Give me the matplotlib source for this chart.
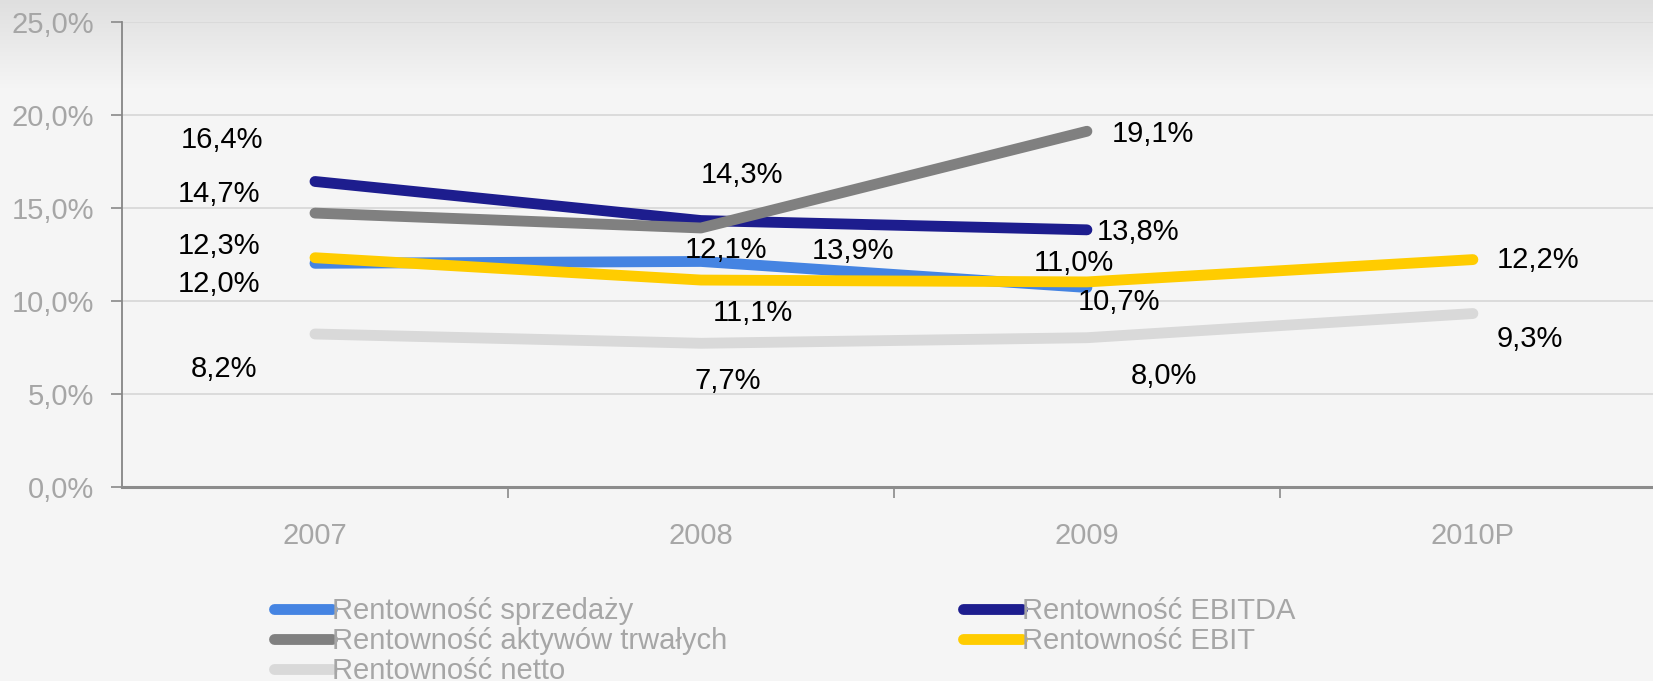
import numpy as np
import matplotlib
matplotlib.use('Agg')
import matplotlib.pyplot as plt
from matplotlib.ticker import FuncFormatter, FixedLocator

plt.rcParams['font.family'] = ['Liberation Sans', 'DejaVu Sans']

# --- dane ---
lata = ['2007', '2008', '2009', '2010P']
rent_sprzedazy = [12.0, 12.1, 10.7]
rent_ebitda = [16.4, 14.3, 13.8]
rent_aktywow = [14.7, 13.9, 19.1]
rent_ebit = [12.3, 11.1, 11.0, 12.2]
rent_netto = [8.2, 7.7, 8.0, 9.3]

nazwy = ['Rentowność sprzedaży', 'Rentowność EBITDA', 'Rentowność aktywów trwałych',
         'Rentowność EBIT', 'Rentowność netto']
serie = [rent_sprzedazy, rent_ebitda, rent_aktywow, rent_ebit, rent_netto]
kolory = ['#4584e2', '#1d1d8e', '#808080', '#ffcc00', '#d9d9d9']

# przesunięcia etykiet (w pikselach) - tak jak na oryginalnym wykresie
przesuniecia = [
    [(-96, -21), (25, 11), (32, -15)],
    [(-93, 41), (41, 46), (51, -2)],
    [(-96, 19), (152, -23), (66, -3)],
    [(-96, 12), (52, -33), (-13, 19), (65, 0)],
    [(-91, -35), (27, -38), (77, -38), (57, -25)],
]

FS = 21
SZARY_TXT = '#a6a6a6'
LW = 7.8

fig = plt.figure(figsize=(16.53, 6.81), dpi=100)
fig.patch.set_facecolor('#f5f5f5')

# delikatny gradient u góry
tlo = fig.add_axes([0, 0, 1, 1], zorder=-10)
grad = np.ones((681, 1))
grad[:, 0] = 0.962
grad[:90, 0] = np.linspace(0.875, 0.962, 90)
tlo.imshow(np.dstack([grad, grad, grad]), aspect='auto', extent=[0, 1, 0, 1])
tlo.axis('off')

ax = fig.add_axes([0.0738, 0.2856, 0.934, 0.6828])
ax.set_facecolor('none')

x = np.arange(len(lata))
for nazwa, dane, kolor, offs in zip(nazwy, serie, kolory, przesuniecia):
    xs = x[:len(dane)]
    ax.plot(xs, dane, color=kolor, lw=LW, solid_capstyle='round',
            solid_joinstyle='round', label=nazwa)
    for xi, v, (dx, dy) in zip(xs, dane, offs):
        ax.annotate(f'{v:.1f}%'.replace('.', ','), (xi, v), xytext=(dx, dy),
                    textcoords='offset pixels', ha='center', va='center',
                    fontsize=FS, color='black')

ax.set_xlim(-0.5, 3.5)
ax.set_ylim(0, 25)
ax.set_yticks(np.arange(0, 26, 5))
ax.yaxis.set_major_formatter(FuncFormatter(lambda v, p: f'{v:.1f}%'.replace('.', ',')))
ax.grid(axis='y', color='#d9d9d9', lw=1.3)
ax.set_axisbelow(True)

ax.xaxis.set_major_locator(FixedLocator([0.5, 1.5, 2.5]))
ax.xaxis.set_major_formatter(FuncFormatter(lambda v, p: ''))
ax.xaxis.set_minor_locator(FixedLocator(x))
ax.set_xticklabels(lata, minor=True)
ax.tick_params(axis='x', which='major', length=8, color='#8a8a8a', width=1.2, direction='out')
ax.tick_params(axis='x', which='minor', length=0, pad=25.5, labelsize=FS, labelcolor=SZARY_TXT)
ax.tick_params(axis='y', length=8, color='#8a8a8a', width=1.2, pad=12,
               labelsize=FS, labelcolor=SZARY_TXT)

for s in ['top', 'right']:
    ax.spines[s].set_visible(False)
ax.spines['left'].set_color('#868686')
ax.spines['left'].set_linewidth(1.3)
ax.spines['bottom'].set_color('#8c8c8c')
ax.spines['bottom'].set_linewidth(2.2)

uchwyty, etykiety = ax.get_legend_handles_labels()
kolejnosc = [0, 2, 4, 1, 3]
leg = fig.legend([uchwyty[i] for i in kolejnosc], [etykiety[i] for i in kolejnosc],
                 ncol=2, loc='upper left', bbox_to_anchor=(0.1655, 0.1229),
                 frameon=False, fontsize=FS, handlelength=2.0, handletextpad=0.0,
                 columnspacing=8.1, labelspacing=0.06, borderpad=0, borderaxespad=0)
for t in leg.get_texts():
    t.set_color(SZARY_TXT)

plt.savefig('out.png', dpi=100, facecolor=fig.get_facecolor())
